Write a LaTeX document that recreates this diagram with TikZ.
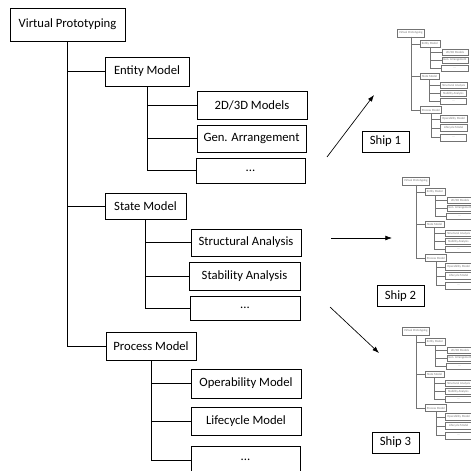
\documentclass[tikz,border=0pt]{standalone}
\usepackage{fontspec}
\setmainfont{Carlito}
\usetikzlibrary{arrows.meta}
\newdimen\pxu
\pxu=0.75pt
\tikzset{
  tbox/.style 2 args={draw, inner sep=0pt, minimum width=#1*\pxu,
    minimum height=#2*\pxu, font=\fontsize{9.5}{11}\selectfont},
  shipbox/.style={draw, line width=0.6pt, inner sep=0pt,
    minimum width=47*\pxu, minimum height=21*\pxu,
    font=\fontsize{9.5}{11}\selectfont},
  ship arrow/.style={-{Latex[length=5pt,width=3.6pt]}, line width=0.5pt},
  fulltree/.style={line width=0.6pt},
  thumbtree/.style={scale=0.24, transform shape, line width=0.3pt, black!55},
  % the hierarchy: root, three models, three leaves each
  vptree/.pic={
    \node[tbox={115}{33}] (vp) at (67.5,24.5) {Virtual Prototyping};
    \node[tbox={84}{29}]  (em) at (147,71.5) {Entity Model};
    \node[tbox={110}{28}] (m2d) at (252,105) {2D/3D Models};
    \node[tbox={109}{27}] (gen) at (251.5,138.5) {Gen. Arrangement};
    \node[tbox={109}{25}] (edots) at (250.5,170.5) {...};
    \node[tbox={81}{26}]  (sm) at (145.5,206) {State Model};
    \node[tbox={110}{27}] (sa) at (246,242.5) {Structural Analysis};
    \node[tbox={111}{28}] (stab) at (244.5,276) {Stability Analysis};
    \node[tbox={110}{24}] (sdots) at (245,308) {...};
    \node[tbox={90}{28}]  (pm) at (151,346) {Process Model};
    \node[tbox={110}{29}] (op) at (246,383.5) {Operability Model};
    \node[tbox={110}{28}] (lc) at (246,421) {Lifecycle Model};
    \node[tbox={109}{28}] (pdots) at (245.5,460) {...};
    \draw (vp.south) |- (em.west);
    \draw (vp.south) |- (sm.west);
    \draw (vp.south) |- (pm.west);
    \draw (em.south) |- (m2d.west);
    \draw (em.south) |- (gen.west);
    \draw (em.south) |- (edots.west);
    \draw (sm.south) |- (sa.west);
    \draw (sm.south) |- (stab.west);
    \draw (sm.south) |- (sdots.west);
    \draw (pm.south) |- (op.west);
    \draw (pm.south) |- (lc.west);
    \draw (pm.south) |- (pdots.west);
  }
}
\begin{document}
\begin{tikzpicture}[x=\pxu, y=-\pxu]
  \useasboundingbox (0,0) rectangle (471,471);
  \fill[white] (0,0) rectangle (471,471);

  % main hierarchy
  \pic[fulltree] (main-) at (0,0) {vptree};

  % one small copy per ship
  \pic[thumbtree] (s1-) at (394.6,27) {vptree};
  \pic[thumbtree] (s2-) at (399.6,175) {vptree};
  \pic[thumbtree] (s3-) at (399.6,325) {vptree};

  \node[shipbox] (ship1) at (385.5,141.5) {Ship 1};
  \node[shipbox] (ship2) at (400.5,296) {Ship 2};
  \node[shipbox] (ship3) at (395.5,442.5) {Ship 3};

  % instantiation arrows
  \coordinate (a1s) at (327,157);
  \coordinate (a1e) at (374,95);
  \coordinate (a2s) at (331,238);
  \coordinate (a2e) at (392,238);
  \coordinate (a3s) at (330,307);
  \coordinate (a3e) at (379,353);
  \draw[ship arrow] (a1s) -- (a1e);
  \draw[ship arrow] (a2s) -- (a2e);
  \draw[ship arrow] (a3s) -- (a3e);
\end{tikzpicture}
\end{document}
